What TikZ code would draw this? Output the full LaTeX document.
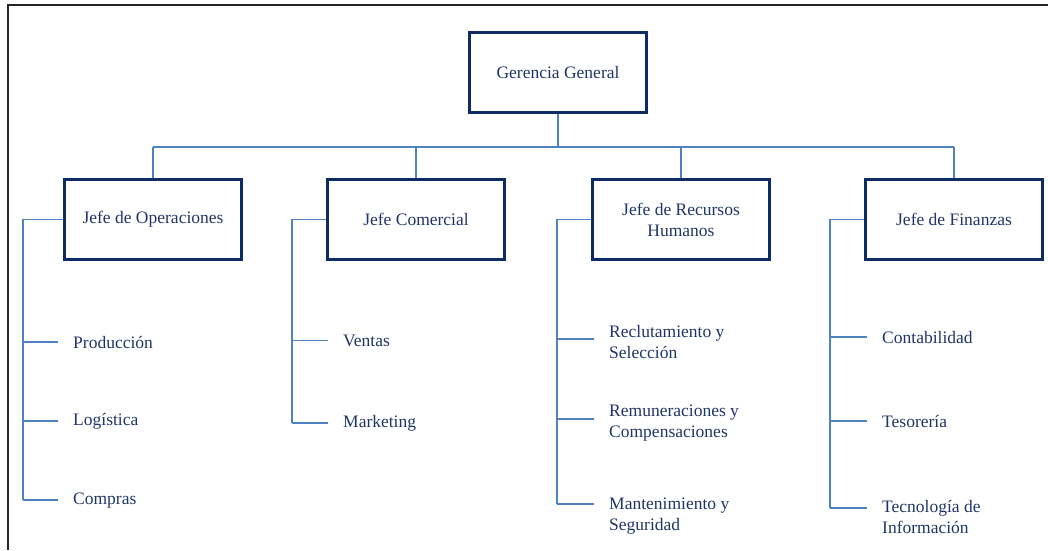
\documentclass[tikz,border=0pt]{standalone}
\usepackage{fontspec}
\setmainfont{Liberation Serif}
\usepackage{tikz}
\usetikzlibrary{calc}

\definecolor{boxblue}{HTML}{0F2B66}
\definecolor{textblue}{HTML}{1F3566}
\definecolor{lineblue}{HTML}{4F82C0}

\begin{document}
\begin{tikzpicture}[x=1pt,y=-1pt,
	box/.style={draw=boxblue,line width=3pt,minimum width=177pt,minimum height=80pt,
		text=textblue,font=\fontsize{17.5}{21}\selectfont,align=center,inner sep=0pt},
	sub/.style={text=textblue,font=\fontsize{17.5}{20.5}\selectfont,align=left,inner sep=0pt},
	link/.style={draw=lineblue,line width=1.6pt},
	branch/.style={link,shorten >=15pt}]
	\useasboundingbox (0,0) rectangle (1048,550);
	\draw[line width=2pt,black!85] (1048,5) -- (8,5) -- (8,550);

	\node[box] (G0) at (558,72.5) {Gerencia General};
	\node[box] (J1) at (153,219.5) {Jefe de Operaciones};
	\node[box] (J2) at (416,219.5) {Jefe Comercial};
	\node[box] (J3) at (681,219.5) {Jefe de Recursos\\Humanos};
	\node[box] (J4) at (954,219.5) {Jefe de Finanzas};

	\node[sub,anchor=base west] (O1) at (73,348) {Producción};
	\node[sub,anchor=base west] (O2) at (73,425) {Logística};
	\node[sub,anchor=base west] (O3) at (73,504) {Compras};

	\node[sub,anchor=base west] (C1) at (343,346) {Ventas};
	\node[sub,anchor=base west] (C2) at (343,427) {Marketing};

	\node[sub,anchor=west] (R1) at (609,342) {Reclutamiento y\\Selección};
	\node[sub,anchor=west] (R2) at (609,423) {Remuneraciones y\\Compensaciones};
	\node[sub,anchor=west] (R3) at (609,516) {Mantenimiento y\\Seguridad};

	\node[sub,anchor=base west] (F1) at (882,343) {Contabilidad};
	\node[sub,anchor=base west] (F2) at (882,427) {Tesorería};
	\node[sub,anchor=west] (F3) at (882,517) {Tecnología de\\Información};

	% barra principal
	\coordinate (B) at (560,147);
	\coordinate (S1) at (23,0);
	\coordinate (S2) at (292,0);
	\coordinate (S3) at (557,0);
	\coordinate (S4) at (830,0);
	\coordinate (R1e) at ([yshift=3pt]R1.west);
	\coordinate (R2e) at ([yshift=4pt]R2.west);
	\coordinate (R3e) at ([yshift=12pt]R3.west);
	\coordinate (F3e) at ([yshift=9pt]F3.west);
	\draw[link] (G0.south) -- (G0.south |- B);
	\draw[link] (J1.north |- B) -- (J4.north |- B);
	\foreach \j in {J1,J2,J3,J4}
		\draw[link] (\j.north |- B) -- (\j.north);

	% ramas
	\draw[link] (J1.west) -- (J1.west -| S1) -- (S1 |- O3.west);
	\draw[link] (J2.west) -- (J2.west -| S2) -- (S2 |- C2.west);
	\draw[link] (J3.west) -- (J3.west -| S3) -- (S3 |- R3e);
	\draw[link] (J4.west) -- (J4.west -| S4) -- (S4 |- F3e);
	\foreach \s in {O1,O2,O3} \draw[branch] (S1 |- \s.west) -- (\s.west);
	\foreach \s in {C1,C2} \draw[branch] (S2 |- \s.west) -- (\s.west);
	\foreach \s in {R1e,R2e,R3e} \draw[branch] (S3 |- \s) -- (\s);
	\foreach \s in {F1.west,F2.west,F3e} \draw[branch] (S4 |- \s) -- (\s);
\end{tikzpicture}
\end{document}
